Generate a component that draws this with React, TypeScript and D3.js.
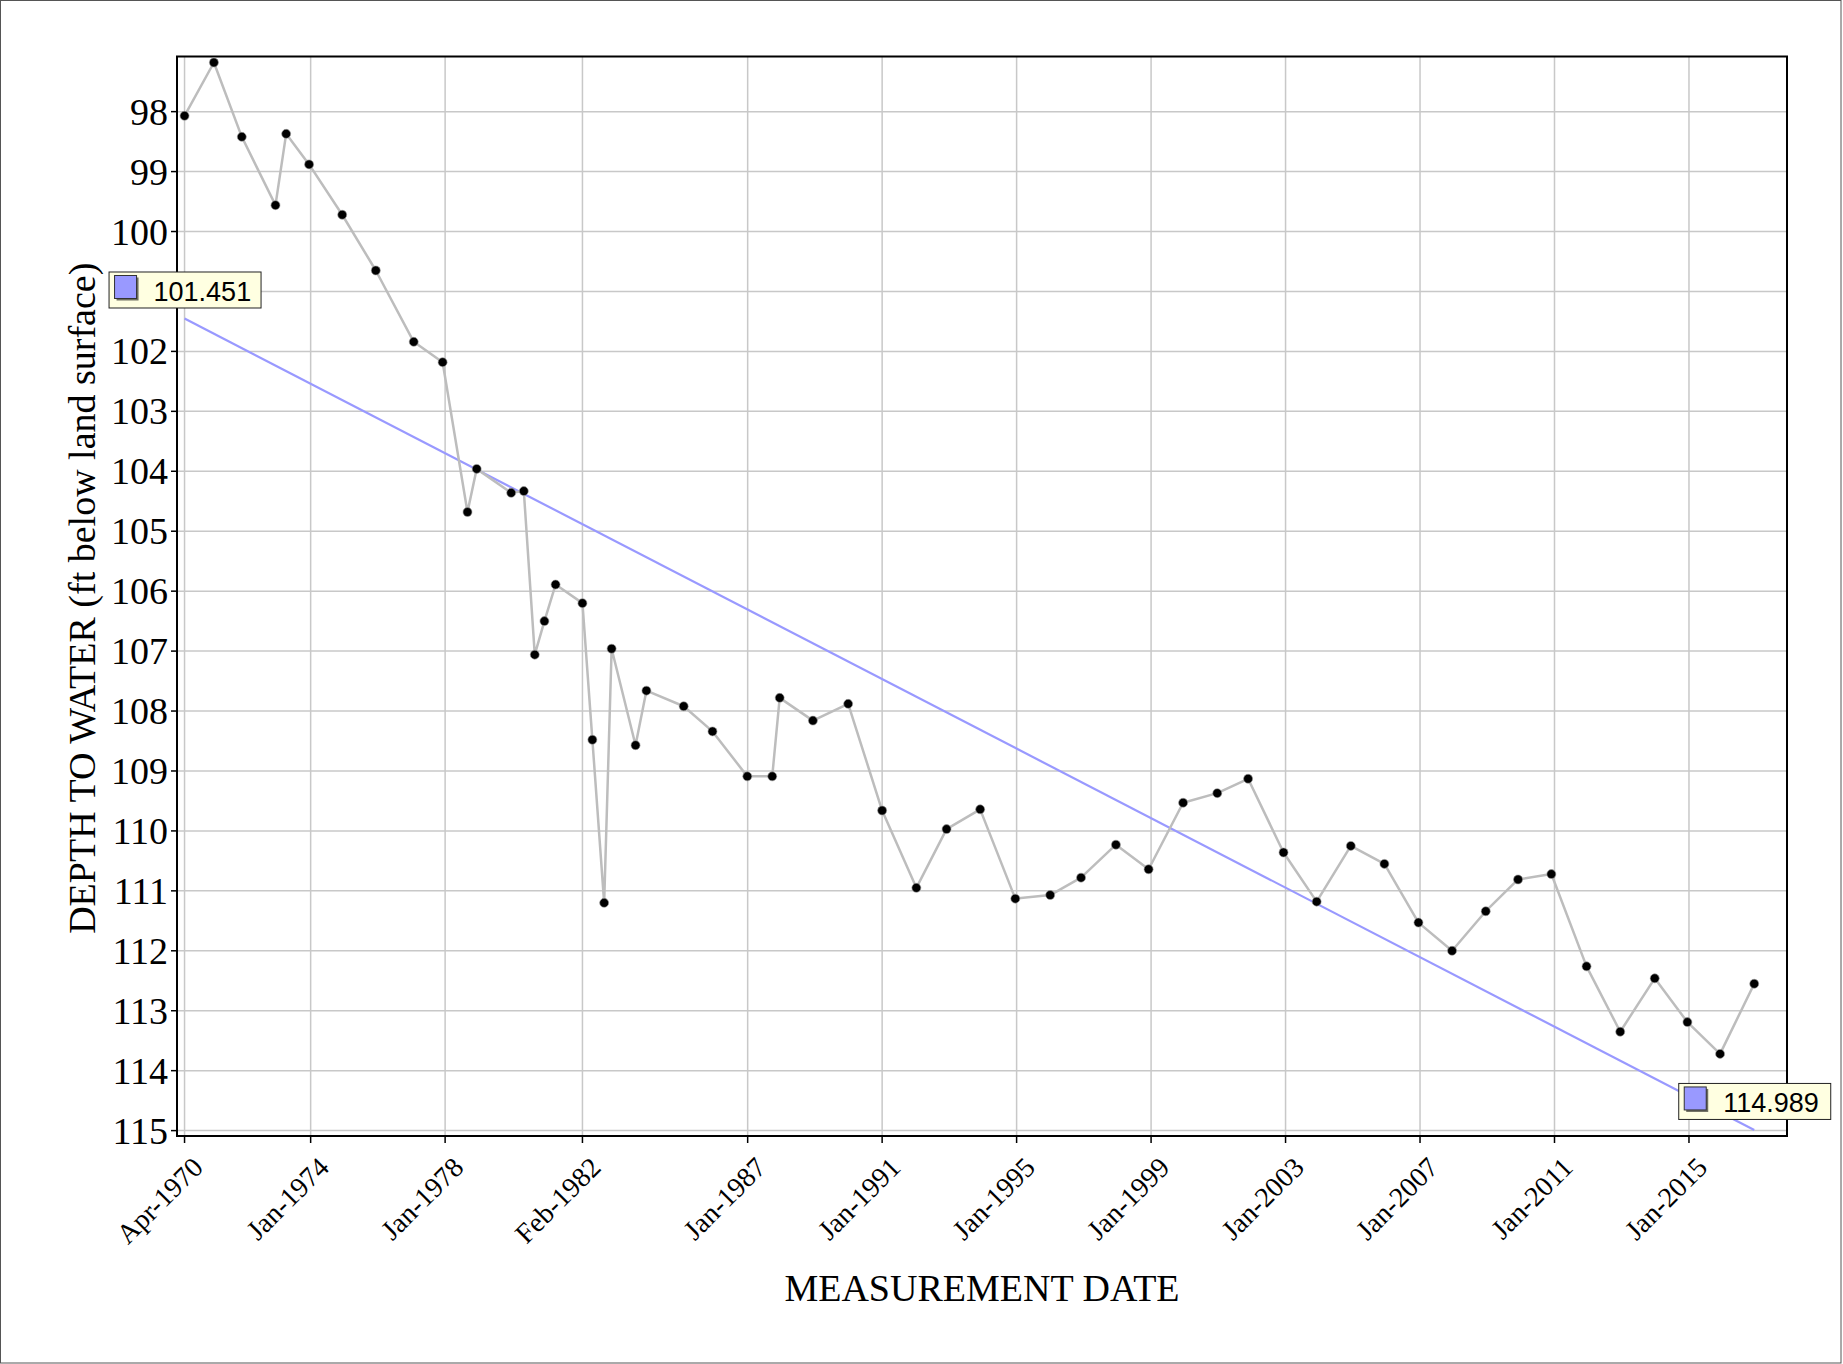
import React from "react";
import * as d3 from "d3";

const measurementDates: string[] = [
  "1970-04-02", "1971-02-15", "1971-12-15", "1972-12-15", "1973-04-10", "1973-12-15",
  "1974-12-10", "1975-12-10", "1977-01-25", "1977-12-05", "1978-09-01", "1978-12-10",
  "1979-12-20", "1980-05-05", "1980-09-01", "1980-12-15", "1981-04-15", "1982-02-01",
  "1982-05-20", "1982-09-25", "1982-12-15", "1983-09-01", "1983-12-28", "1985-02-05",
  "1985-12-15", "1986-12-28", "1987-09-25", "1987-12-15", "1988-12-10", "1989-12-28",
  "1991-01-01", "1992-01-08", "1992-12-01", "1993-12-01", "1994-12-18", "1996-01-01",
  "1996-12-01", "1997-12-15", "1998-12-05", "1999-12-15", "2000-12-20", "2001-11-20",
  "2002-12-10", "2003-12-05", "2004-12-10", "2005-12-10", "2006-12-15", "2007-12-15",
  "2008-12-15", "2009-12-01", "2010-11-28", "2011-12-15", "2012-12-15", "2013-12-25",
  "2014-12-15", "2015-12-05", "2016-12-10",
];

const depthToWater: number[] = [
  98.07, 97.18, 98.42, 99.56, 98.37, 98.88,
  99.72, 100.65, 101.84, 102.18, 104.68, 103.96,
  104.36, 104.33, 107.06, 106.5, 105.89, 106.2,
  108.48, 111.2, 106.96, 108.57, 107.66, 107.92,
  108.34, 109.09, 109.09, 107.78, 108.16, 107.88,
  109.66, 110.95, 109.97, 109.64, 111.13, 111.07,
  110.78, 110.23, 110.64, 109.53, 109.37, 109.13,
  110.36, 111.18, 110.25, 110.55, 111.53, 112.0,
  111.34, 110.81, 110.72, 112.26, 113.35, 112.46,
  113.19, 113.72, 112.55,
];

const xTickDates: string[] = [
  "1970-04-02", "1974-01-01", "1978-01-01", "1982-02-01", "1987-01-01", "1991-01-01",
  "1995-01-01", "1999-01-01", "2003-01-01", "2007-01-01", "2011-01-01", "2015-01-01",
];
const xTickLabels: string[] = [
  "Apr-1970", "Jan-1974", "Jan-1978", "Feb-1982", "Jan-1987", "Jan-1991",
  "Jan-1995", "Jan-1999", "Jan-2003", "Jan-2007", "Jan-2011", "Jan-2015",
];
const yTickValues: number[] = [
  98, 99, 100, 101, 102, 103, 104, 105, 106, 107, 108, 109, 110, 111, 112, 113, 114, 115,
];

const trendValues: number[] = [101.451, 114.989];

const W = 1843;
const H = 1364;
const plot = { left: 177, right: 1787, top: 56.5, bottom: 1136 };
const SERIF = "'Liberation Serif', 'Times New Roman', Times, serif";
const SANS = "'Liberation Sans', Arial, Helvetica, sans-serif";

export default function App() {
  const parse = d3.utcParse("%Y-%m-%d");
  const pts = measurementDates.map((d, i) => ({ date: parse(d) as Date, v: depthToWater[i] }));

  const x = d3
    .scaleUtc()
    .domain([parse("1970-01-10") as Date, parse("2017-12-01") as Date])
    .range([plot.left, plot.right]);
  const y = d3.scaleLinear().domain([97.08, 115.09]).range([plot.top, plot.bottom]);

  const line = d3
    .line<{ date: Date; v: number }>()
    .x((d) => x(d.date))
    .y((d) => y(d.v));

  const tDates = xTickDates.map((d) => parse(d) as Date);

  const trendPts = [
    { date: pts[0].date, v: trendValues[0] },
    { date: pts[pts.length - 1].date, v: trendValues[1] },
  ];

  const boxW = 152;
  const boxH = 36;

  return (
    <div>
      <style>{"body{margin:0;}"}</style>
      <svg width={W} height={H} style={{ display: "block" }}>
        <rect x={0} y={0} width={W} height={H} fill="#ffffff" />
        <rect x={0.5} y={0.5} width={1840.5} height={1362.5} fill="none" stroke="#555" strokeWidth={1} />

        {/* grid */}
        <g stroke="#c8c8c8" strokeWidth={1.5}>
          {yTickValues.map((t) => (
            <line key={"gy" + t} x1={plot.left} x2={plot.right} y1={y(t)} y2={y(t)} />
          ))}
          {tDates.map((t, i) => (
            <line key={"gx" + i} x1={x(t)} x2={x(t)} y1={plot.top} y2={plot.bottom} />
          ))}
        </g>

        {/* frame */}
        <rect
          x={plot.left}
          y={plot.top}
          width={plot.right - plot.left}
          height={plot.bottom - plot.top}
          fill="none"
          stroke="#000"
          strokeWidth={2}
        />

        {/* y ticks */}
        <g>
          {yTickValues.map((t) => (
            <g key={"yt" + t}>
              <line x1={plot.left - 6} x2={plot.left} y1={y(t)} y2={y(t)} stroke="#000" strokeWidth={1.5} />
              <text
                x={plot.left - 9}
                y={y(t) + 13}
                textAnchor="end"
                fontFamily={SERIF}
                fontSize={38}
                fill="#000"
              >
                {t}
              </text>
            </g>
          ))}
        </g>

        {/* x ticks */}
        <g>
          {tDates.map((t, i) => (
            <g key={"xt" + i}>
              <line x1={x(t)} x2={x(t)} y1={plot.bottom} y2={plot.bottom + 7} stroke="#000" strokeWidth={1.5} />
              <text
                transform={`translate(${x(t) + 20},${plot.bottom + 33}) rotate(-45)`}
                textAnchor="end"
                fontFamily={SERIF}
                fontSize={28}
                fill="#000"
              >
                {xTickLabels[i]}
              </text>
            </g>
          ))}
        </g>

        {/* axis titles */}
        <text
          x={(plot.left + plot.right) / 2}
          y={1301}
          textAnchor="middle"
          fontFamily={SERIF}
          fontSize={38}
          fill="#000"
        >
          MEASUREMENT DATE
        </text>
        <text
          transform={`translate(95,${(plot.top + plot.bottom) / 2 + 2}) rotate(-90)`}
          textAnchor="middle"
          fontFamily={SERIF}
          fontSize={38}
          fill="#000"
        >
          DEPTH TO WATER (ft below land surface)
        </text>

        {/* trend line */}
        <path d={line(trendPts) || ""} fill="none" stroke="#9999ff" strokeWidth={2.2} />

        {/* data line */}
        <path d={line(pts) || ""} fill="none" stroke="#bdbdbd" strokeWidth={2.5} strokeLinejoin="round" />
        {pts.map((p, i) => (
          <circle key={"p" + i} cx={x(p.date)} cy={y(p.v)} r={4.5} fill="#000" stroke="#9a9a9a" strokeWidth={0.6} />
        ))}

        {/* trend labels */}
        {trendPts.map((p, i) => {
          const cx = x(p.date);
          const left = cx - boxW / 2;
          const top = y(p.v) - 11 - boxH;
          return (
            <g key={"lbl" + i}>
              <rect x={left + 0.5} y={top + 0.5} width={boxW} height={boxH} fill="#ffffe1" stroke="#222" strokeWidth={1} />
              <rect x={left + 8} y={top + 6} width={22} height={23} fill="#6e6e60" />
              <rect x={left + 6} y={top + 4} width={22} height={23} fill="#9999ff" stroke="#333" strokeWidth={1} />
              <text x={left + 45} y={top + 29.5} fontFamily={SANS} fontSize={27} fill="#000">
                {p.v.toFixed(3)}
              </text>
            </g>
          );
        })}
      </svg>
    </div>
  );
}
